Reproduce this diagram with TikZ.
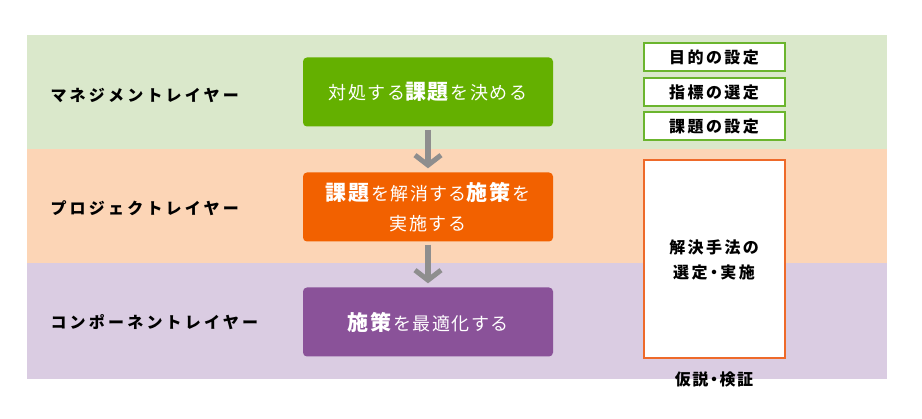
\documentclass[tikz,border=0pt]{standalone}
\usepackage{fontspec}
\setmainfont{Noto Sans CJK JP}
\usetikzlibrary{arrows.meta,positioning}

\definecolor{bandgreen}{HTML}{DAE8CB}
\definecolor{bandorange}{HTML}{FCD5B6}
\definecolor{bandpurple}{HTML}{DACCE2}
\definecolor{boxgreen}{HTML}{64B000}
\definecolor{boxorange}{HTML}{F26100}
\definecolor{boxpurple}{HTML}{8A5299}
\definecolor{linegreen}{HTML}{6BB52E}
\definecolor{lineorange}{HTML}{EE6A2A}
\definecolor{arrowgray}{HTML}{8E8E8E}

\newcommand{\keyword}[1]{{\bfseries\fontsize{21}{21}\selectfont #1}\hspace{2pt}}

\tikzset{
  layerlabel/.style={anchor=west, font={\fontsize{16}{16}\selectfont\bfseries\addfontfeature{LetterSpace=20}}, text=black},
  taskbox/.style={rounded corners=4pt, minimum width=250pt, minimum height=69pt, text=white, align=center,
    font={\fontsize{18}{30}\selectfont\addfontfeature{LetterSpace=8}}},
  goalbox/.style={draw=linegreen, line width=2pt, fill=white, minimum width=141pt, minimum height=28pt,
    font={\fontsize{16}{16}\selectfont\bfseries\addfontfeature{LetterSpace=15}}},
  methodbox/.style={draw=lineorange, line width=2pt, fill=white, minimum width=141pt, minimum height=198pt,
    align=center, font={\fontsize{16}{25}\selectfont\bfseries\addfontfeature{LetterSpace=15,RawFeature=+palt}}},
  flowarrow/.style={arrowgray, line width=6pt, -{Straight Barb[length=10pt,width=26pt,line width=5pt]},
    shorten <=3pt, shorten >=4pt}
}

\begin{document}
\begin{tikzpicture}[x=1pt,y=-1pt]
    \useasboundingbox (0,0) rectangle (922,419);
    \fill[white] (0,0) rectangle (922,419);
    % layers
    \fill[bandgreen] (27,35) rectangle (887,149);
    \fill[bandorange] (27,149) rectangle (887,263);
    \fill[bandpurple] (27,263) rectangle (887,379);
    \node[layerlabel] (mgmt) at (47,95) {マネジメントレイヤー};
    \node[layerlabel] (proj) at (47,208) {プロジェクトレイヤー};
    \node[layerlabel] (comp) at (47,322) {コンポーネントレイヤー};
    % flow
    \node[taskbox, fill=boxgreen] (issue) at (428,92) {対処する\keyword{課題}を決める};
    \node[taskbox, fill=boxorange] (action) at (428,207) {\keyword{課題}を解消する\keyword{施策}を\\実施する};
    \node[taskbox, fill=boxpurple] (optim) at (428,322) {\keyword{施策}を最適化する};
    \draw[flowarrow] (issue) -- (action);
    \draw[flowarrow] (action) -- (optim);
    % right column
    \node[goalbox] (purpose) at (714,57.5) {目的の設定};
    \node[goalbox] (index) at (714,92.5) {指標の選定};
    \node[goalbox] (issueset) at (714,126.5) {課題の設定};
    \node[methodbox] (method) at (714,259.5) {解決手法の\\選定・実施};
    \node[below=9pt of method, font={\fontsize{16}{16}\selectfont\bfseries\addfontfeature{LetterSpace=10,RawFeature=+palt}}] (verify) {仮説・検証};
\end{tikzpicture}
\end{document}
